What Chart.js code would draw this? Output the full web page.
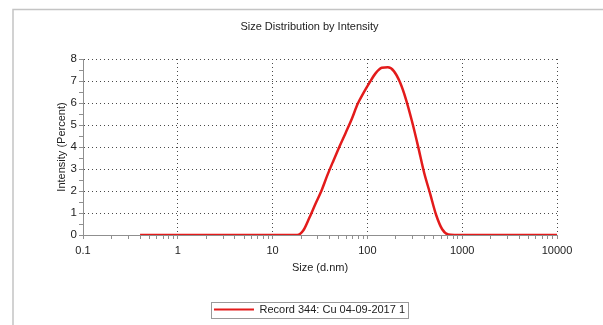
<!DOCTYPE html>
<html>
<head>
<meta charset="utf-8">
<script src="https://cdn.jsdelivr.net/npm/chart.js@4/dist/chart.umd.min.js"></script>
<style>
  html, body { margin: 0; padding: 0; background: #fff; }
  #wrap { position: relative; width: 603px; height: 325px; }
</style>
</head>
<body>
<div id="wrap"><canvas id="c"></canvas></div>
<script>
// size classes (d.nm) and intensity (%)
const sizes = [
  0.4, 0.4632, 0.5365, 0.6213, 0.7195, 0.8332, 0.9649,
  1.117, 1.294, 1.499, 1.736, 2.010, 2.328, 2.696, 3.122, 3.615, 4.187, 4.849, 5.615, 6.503, 7.531, 8.721,
  10.10, 11.70, 13.54, 15.69, 18.17, 21.04, 24.36, 28.21, 32.67, 37.84, 43.82, 50.75, 58.77, 68.06, 78.82, 91.28,
  105.7, 122.4, 141.8, 164.2, 190.1, 220.2, 255.0, 295.3, 342.0, 396.1, 458.7, 531.2, 615.1, 712.4, 825.0, 955.4,
  1106, 1281, 1484, 1718, 1990, 2305, 2669, 3091, 3580, 4145, 4801, 5560, 6439, 7456, 8635, 10000,
];
const intensity = [
  0, 0, 0, 0, 0, 0, 0,
  0, 0, 0, 0, 0, 0, 0, 0, 0, 0, 0, 0, 0, 0, 0,
  0, 0, 0, 0, 0, 0.2, 0.77, 1.4, 2.0, 2.72, 3.38, 4.02, 4.63, 5.25, 5.95, 6.47,
  6.94, 7.36, 7.6, 7.62, 7.45, 6.95, 6.17, 5.17, 4.04, 2.84, 1.88, 0.91, 0.26, 0.02, 0, 0,
  0, 0, 0, 0, 0, 0, 0, 0, 0, 0, 0, 0, 0, 0, 0, 0,
];
const seriesLabel = 'Record 344: Cu 04-09-2017 1';
const xMajor = [0.1, 1, 10, 100, 1000, 10000];
const yMax = 8;

const FONT = "'Liberation Sans', Arial, sans-serif";
const INK = '#222';
const RED = '#e31b1b';
const DOTS = '#4a4a4a';
const AXIS = '#8f8f8f';

Chart.defaults.font.family = FONT;
Chart.defaults.font.size = 11;
Chart.defaults.color = INK;

// light grey frame behind the chart + box round the legend
const framePlugin = {
  id: 'frame',
  beforeDraw(chart) {
    const ctx = chart.ctx;
    ctx.save();
    ctx.fillStyle = '#fff';
    ctx.fillRect(0, 0, chart.width, chart.height);
    ctx.strokeStyle = '#c4c4c4';
    ctx.lineWidth = 1.5;
    ctx.beginPath();
    ctx.moveTo(13, chart.height);
    ctx.lineTo(13, 9.5);
    ctx.lineTo(chart.width, 9.5);
    ctx.stroke();
    ctx.restore();
  },
  afterDraw(chart) {
    const lg = chart.legend;
    if (!lg || !lg.legendHitBoxes || !lg.legendHitBoxes.length) return;
    const hb = lg.legendHitBoxes[0];
    const ctx = chart.ctx;
    const cy = hb.top + hb.height / 2;
    ctx.save();
    ctx.strokeStyle = '#9a9a9a';
    ctx.lineWidth = 1;
    ctx.strokeRect(Math.round(hb.left - 3) + 0.5, Math.round(cy - 8) + 0.5, Math.round(hb.width + 6), 16);
    ctx.restore();
  },
};

new Chart(document.getElementById('c'), {
  type: 'line',
  data: {
    datasets: [{
      label: seriesLabel,
      data: sizes.map((s, i) => ({ x: s, y: intensity[i] })),
      borderColor: RED,
      backgroundColor: RED,
      borderWidth: 2.5,
      pointRadius: 0,
      cubicInterpolationMode: 'monotone',
      fill: false,
    }],
  },
  options: {
    responsive: true,
    maintainAspectRatio: false,
    animation: false,
    layout: { padding: { left: 62, right: 46, top: 0, bottom: 0 } },
    plugins: {
      title: {
        display: true,
        text: 'Size Distribution by Intensity',
        color: INK,
        font: { size: 11, weight: 'normal' },
        padding: { top: 20.5, bottom: 25.3 },
      },
      legend: {
        position: 'bottom',
        labels: {
          color: INK,
          boxWidth: 40,
          boxHeight: 2,
          padding: 8,
          font: { size: 11 },
          generateLabels(chart) {
            return Chart.defaults.plugins.legend.labels.generateLabels(chart)
              .map((it) => ({ ...it, lineWidth: 0, strokeStyle: 'rgba(0,0,0,0)' }));
          },
        },
      },
      tooltip: { enabled: false },
    },
    scales: {
      x: {
        type: 'logarithmic',
        min: 0.1,
        max: 10000,
        afterBuildTicks(scale) {
          const ticks = [];
          xMajor.forEach((d, i) => {
            ticks.push({ value: d });
            if (i < xMajor.length - 1) {
              for (let m = 2; m <= 9; m++) ticks.push({ value: m * d });
            }
          });
          scale.ticks = ticks;
        },
        afterFit(scale) { scale.height = 61; },
        ticks: {
          autoSkip: false,
          maxRotation: 0,
          padding: 5,
          color: INK,
          callback: (v) => (xMajor.includes(v) ? String(v) : ''),
        },
        grid: {
          color: (c) => (c.tick && xMajor.includes(c.tick.value) ? DOTS : 'rgba(0,0,0,0)'),
          tickColor: AXIS,
          tickLength: 4,
          lineWidth: 1,
        },
        border: { display: true, color: AXIS, width: 1, dash: [1, 3] },
        title: {
          display: true,
          text: 'Size (d.nm)',
          color: INK,
          font: { size: 11 },
          padding: { top: 4, bottom: 21.4 },
        },
      },
      y: {
        min: 0,
        max: yMax,
        afterFit(scale) { scale.width = 21; },
        ticks: {
          stepSize: 0.5,
          autoSkip: false,
          padding: 2,
          color: INK,
          font: { size: 11.5 },
          callback: (v) => (Number.isInteger(v) ? String(v) : ''),
        },
        grid: {
          color: (c) => (c.tick && Number.isInteger(c.tick.value) ? DOTS : 'rgba(0,0,0,0)'),
          tickColor: AXIS,
          tickLength: 4,
          lineWidth: 1,
        },
        border: { display: true, color: AXIS, width: 1, dash: [1, 3] },
        title: {
          display: true,
          text: 'Intensity (Percent)',
          color: INK,
          font: { size: 11 },
          padding: { top: -6.6, bottom: 0 },
        },
      },
    },
  },
  plugins: [framePlugin],
});
</script>
</body>
</html>
